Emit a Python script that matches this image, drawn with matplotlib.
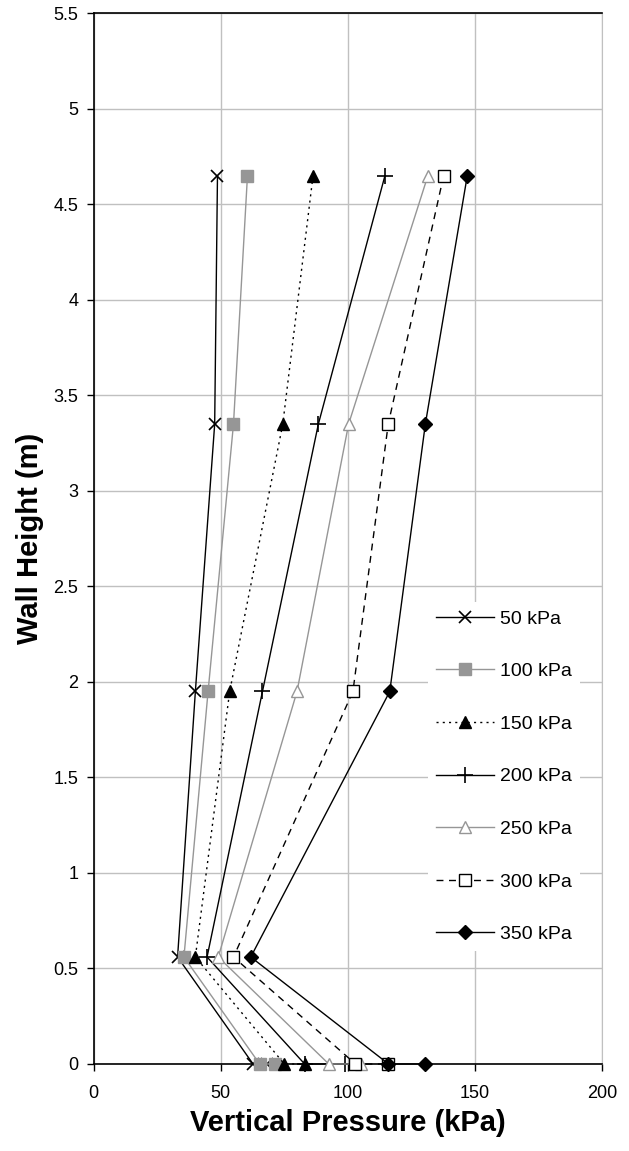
import matplotlib
matplotlib.use("Agg")
import matplotlib.pyplot as plt
from matplotlib.ticker import FuncFormatter

plt.rcParams["font.family"] = ["Liberation Sans", "DejaVu Sans"]

# wall heights (m); the base is measured twice
HEIGHTS = [4.65, 3.35, 1.95, 0.56, 0.0, 0.0]

P_50 = [48.7, 47.6, 40.0, 33.0, 62.7, 68.2]
P_100 = [60.5, 55.0, 45.0, 35.5, 65.3, 71.2]
P_150 = [86.3, 74.4, 53.5, 40.0, 75.0, 83.0]
P_200 = [114.6, 88.4, 66.4, 44.6, 83.0, 99.0]
P_250 = [131.5, 100.3, 80.0, 49.0, 92.5, 105.0]
P_300 = [137.7, 115.9, 102.0, 55.0, 103.0, 116.0]
P_350 = [147.0, 130.5, 116.5, 61.8, 116.0, 130.5]

LABELS = ["50 kPa", "100 kPa", "150 kPa", "200 kPa", "250 kPa", "300 kPa", "350 kPa"]

GREY = "#969696"

fig = plt.figure(figsize=(6.29, 11.51), dpi=100)
ax = fig.add_axes([0.149, 0.0756, 0.808, 0.9128])

series = [P_50, P_100, P_150, P_200, P_250, P_300, P_350]
styles = [
	dict(color="black", ls="-", marker="x", ms=9, mfc="black", mec="black", mew=1.2),
	dict(color=GREY, ls="-", marker="s", ms=8, mfc=GREY, mec=GREY),
	dict(color="black", ls=(0, (1.5, 3)), marker="^", ms=9, mfc="black", mec="black"),
	dict(color="black", ls="-", marker="+", ms=11, mfc="black", mec="black", mew=1.2),
	dict(color=GREY, ls="-", marker="^", ms=9, mfc="white", mec=GREY),
	dict(color="black", ls=(0, (5, 4)), marker="s", ms=8, mfc="white", mec="black"),
	dict(color="black", ls="-", marker="D", ms=7, mfc="black", mec="black"),
]

for values, label, st in zip(series, LABELS, styles):
	ax.plot(values, HEIGHTS, lw=1.0, label=label, clip_on=False, zorder=3, **st)

ax.set_xlim(0, 200)
ax.set_ylim(0, 5.5)
ax.set_xticks([0, 50, 100, 150, 200])
ax.set_yticks([i * 0.5 for i in range(12)])
ax.yaxis.set_major_formatter(FuncFormatter(lambda v, _: f"{v:g}"))
ax.grid(True, color="#c0c0c0", lw=1.0)
ax.set_axisbelow(True)

for side in ["left", "bottom", "top"]:
	ax.spines[side].set_color("black")
	ax.spines[side].set_linewidth(1.2)
ax.spines["right"].set_color("#c0c0c0")

ax.tick_params(direction="out", length=5, width=1.0, labelsize=13)
ax.tick_params(axis="x", pad=10)
ax.tick_params(axis="y", pad=6)
ax.set_xlabel("Vertical Pressure (kPa)", fontsize=21, fontweight="bold", labelpad=5)
ax.set_ylabel("Wall Height (m)", fontsize=21, fontweight="bold", labelpad=7)

leg = ax.legend(
	loc="center left",
	bbox_to_anchor=(0.658, 0.2736),
	borderaxespad=0,
	fontsize=14,
	handlelength=3.0,
	handletextpad=0.3,
	labelspacing=1.8,
	frameon=True,
	fancybox=False,
	framealpha=1.0,
	edgecolor="none",
	borderpad=0.4,
)
leg.set_zorder(5)

fig.savefig("out.png", dpi=100)
